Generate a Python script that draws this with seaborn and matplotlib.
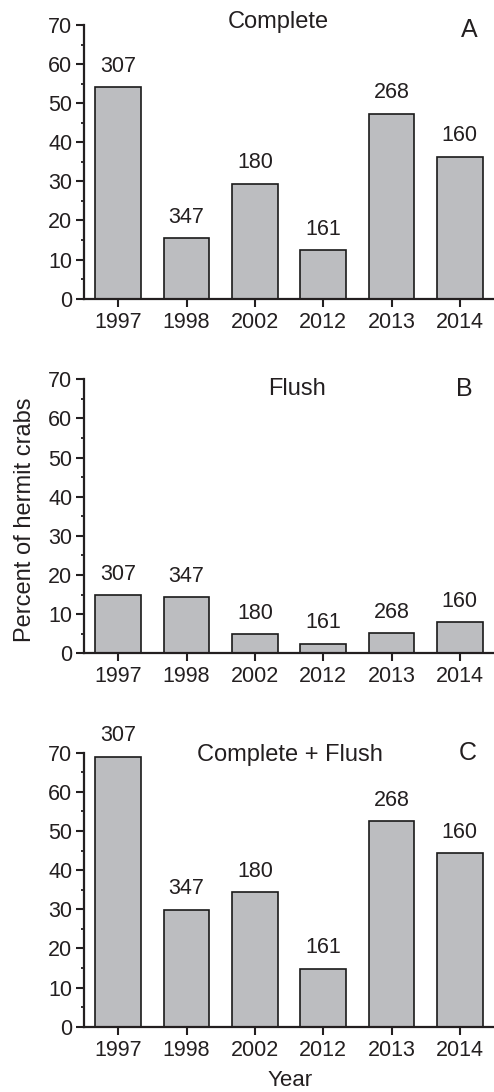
import matplotlib
matplotlib.use("Agg")
import matplotlib.pyplot as plt
import seaborn as sns
import pandas as pd
from matplotlib.ticker import MultipleLocator

years = ["1997", "1998", "2002", "2012", "2013", "2014"]
counts = ["307", "347", "180", "161", "268", "160"]
complete = [54.1, 15.5, 29.4, 12.4, 47.3, 36.3]
flush = [14.9, 14.4, 4.9, 2.5, 5.2, 8.0]
complete_flush = [69.0, 29.9, 34.3, 14.8, 52.5, 44.3]

panel_titles = ["Complete", "Flush", "Complete + Flush"]
panel_letters = ["A", "B", "C"]
y_label = "Percent of hermit crabs"
x_label = "Year"

sns.set_theme(style="ticks")
plt.rcParams["font.family"] = ["Liberation Sans", "DejaVu Sans"]
ink = "#231F20"
plt.rcParams["text.color"] = ink
plt.rcParams["xtick.color"] = ink
plt.rcParams["ytick.color"] = ink
plt.rcParams["axes.edgecolor"] = ink

fig = plt.figure(figsize=(4.94, 10.92), dpi=100)
W, H = 494.0, 1092.0

# axes boxes in pixels: (left, top_px, right, bottom_px)
boxes = [(84, 25.0, 494, 298.7), (84, 379.3, 494, 653.3), (84, 752.7, 494, 1026.7)]
title_pos = [(2.34, 70.8), (2.61, 67.4), (2.51, 69.4)]
letter_pos = [(5.14, 68.7), (5.07, 67.5), (5.11, 69.9)]

series = [complete, flush, complete_flush]
for i, vals in enumerate(series):
    l, t, r, b = boxes[i]
    ax = fig.add_axes([l / W, 1 - b / H, (r - l) / W, (b - t) / H])
    df = pd.DataFrame({"year": years, "pct": vals})
    sns.barplot(data=df, x="year", y="pct", ax=ax, color="#BCBDC0",
                edgecolor="#1a1a1a", linewidth=1.2, width=0.667, saturation=1)
    ax.set_xlim(-0.5, 5.5)
    ax.set_ylim(0, 70)
    ax.yaxis.set_major_locator(MultipleLocator(10))
    ax.yaxis.set_minor_locator(MultipleLocator(5))
    ax.tick_params(axis="y", which="major", length=6, width=1.5, labelsize=15.5, pad=2.5, direction="out")
    ax.tick_params(axis="y", which="minor", length=2.5, width=1.3, direction="out")
    ax.tick_params(axis="x", which="major", length=6, width=1.5, labelsize=15.5, pad=3.5, direction="out")
    for s in ["top", "right"]:
        ax.spines[s].set_visible(False)
    for s in ["left", "bottom"]:
        ax.spines[s].set_linewidth(1.6)
    ax.set_xlabel("")
    ax.set_ylabel("")
    for j, c in enumerate(counts):
        ax.annotate(c, (j, vals[j]), xytext=(0, 15), textcoords="offset points",
                    ha="center", va="center", fontsize=15.5, annotation_clip=False)
    ax.text(title_pos[i][0], title_pos[i][1], panel_titles[i], ha="center", va="center",
            fontsize=17, clip_on=False)
    ax.text(letter_pos[i][0], letter_pos[i][1], panel_letters[i], ha="center", va="center",
            fontsize=18, clip_on=False)
    ax.set_facecolor("none")

fig.text(25 / W, 1 - 520 / H, y_label, rotation=90, ha="center", va="center", fontsize=17)
fig.text(290 / W, 1 - 1080 / H, x_label, ha="center", va="center", fontsize=16)

fig.savefig("out.png", dpi=100, facecolor="white")
